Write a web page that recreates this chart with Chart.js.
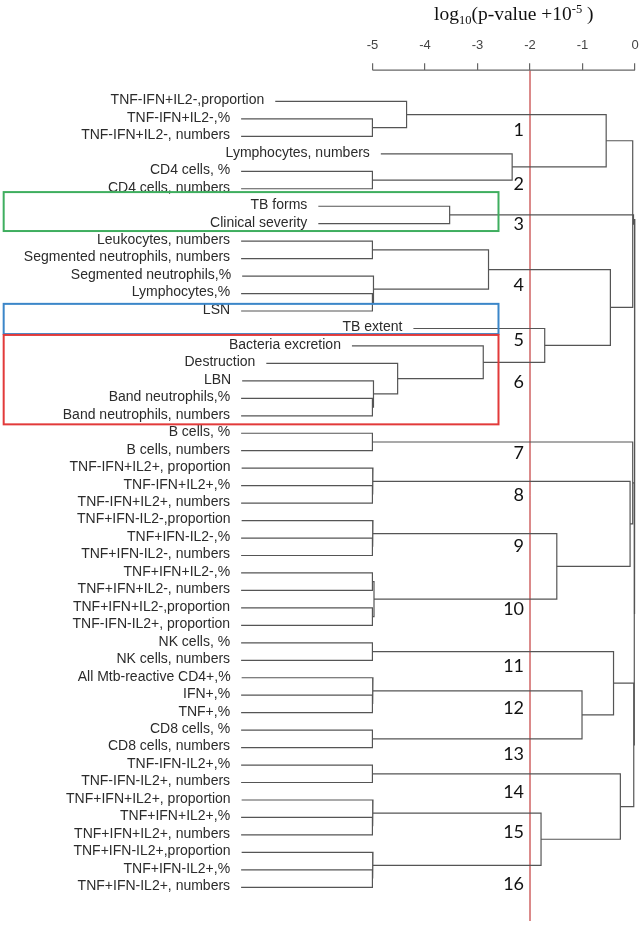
<!DOCTYPE html>
<html lang="en">
<head>
<meta charset="UTF-8">
<title>Dendrogram</title>
<script src="https://cdn.jsdelivr.net/npm/chart.js"></script>
<style>
    body { margin: 0; background: #fff; }
    #box { width: 644px; height: 930px; }
</style>
</head>
<body>
<div id="box"><canvas id="dendro"></canvas></div>
<script>
    var leafLabels = [
        'TNF-IFN+IL2-,proportion', 'TNF-IFN+IL2-,%', 'TNF-IFN+IL2-, numbers',
        'Lymphocytes, numbers', 'CD4 cells, %', 'CD4 cells, numbers',
        'TB forms', 'Clinical severity',
        'Leukocytes, numbers', 'Segmented neutrophils, numbers', 'Segmented neutrophils,%',
        'Lymphocytes,%', 'LSN',
        'TB extent', 'Bacteria excretion', 'Destruction', 'LBN',
        'Band neutrophils,%', 'Band neutrophils, numbers',
        'B cells, %', 'B cells, numbers',
        'TNF-IFN+IL2+, proportion', 'TNF-IFN+IL2+,%', 'TNF-IFN+IL2+, numbers',
        'TNF+IFN-IL2-,proportion', 'TNF+IFN-IL2-,%', 'TNF+IFN-IL2-, numbers',
        'TNF+IFN+IL2-,%', 'TNF+IFN+IL2-, numbers', 'TNF+IFN+IL2-,proportion',
        'TNF-IFN-IL2+, proportion',
        'NK cells, %', 'NK cells, numbers',
        'All Mtb-reactive CD4+,%', 'IFN+,%', 'TNF+,%',
        'CD8 cells, %', 'CD8 cells, numbers',
        'TNF-IFN-IL2+,%', 'TNF-IFN-IL2+, numbers',
        'TNF+IFN+IL2+, proportion', 'TNF+IFN+IL2+,%', 'TNF+IFN+IL2+, numbers',
        'TNF+IFN-IL2+,proportion', 'TNF+IFN-IL2+,%', 'TNF+IFN-IL2+, numbers'
    ];

    // linkage: leaves are 0..45, merge k makes node 46+k
    var mergeLeft   = [1, 0, 4, 3, 47, 6, 8, 11, 10, 52, 17, 16, 15, 14, 13, 55, 50, 51,
                       19, 22, 21, 25, 24, 27, 29, 69, 68, 66, 64,
                       31, 34, 33, 36, 77, 75, 38, 41, 40, 44, 43, 83, 81, 80, 74, 63];
    var mergeRight  = [2, 46, 5, 48, 49, 7, 9, 12, 53, 54, 18, 56, 57, 58, 59, 60, 61, 62,
                       20, 23, 65, 26, 67, 28, 30, 70, 71, 72, 73,
                       32, 35, 76, 37, 78, 79, 39, 42, 82, 45, 84, 85, 86, 87, 88, 89];
    var mergeHeight = [-5, -4.35, -5, -2.34, -0.55, -3.53, -5, -5, -4.98, -2.79, -5, -4.98, -4.52, -2.89, -1.72, -0.47, -0.045, -0.03,
                       -5, -5, -4.99, -5, -4.99, -5, -5, -4.97, -1.49, -0.095, -0.045,
                       -5, -5, -4.99, -5, -1.01, -0.41, -5, -5, -4.99, -5, -4.99, -1.79, -0.28, -0.025, -0.015, -0.005];

    var xTicks = [-5, -4, -3, -2, -1, 0];
    var cutoff = -2;

    var clusterNames = ['1', '2', '3', '4', '5', '6', '7', '8', '9', '10', '11', '12', '13', '14', '15', '16'];
    var clusterRows  = [1.62, 4.76, 7.0, 10.52, 13.69, 16.07, 20.16, 22.57, 25.48, 29.06, 32.33, 34.74, 37.4, 39.55, 41.84, 44.82];

    // highlighted groups (rows in leaf units)
    var boxColors = ['#3fae5f', '#3b86c9', '#e23a3a'];
    var boxTop    = [5.19, 11.59, 13.37];
    var boxBottom = [7.42, 13.32, 18.49];
    var boxLeft = -12.02, boxRight = -2.6;

    var yMin = -1.79, yMax = 46.93;
    var stem = 2.5;

    var nLeaves = leafLabels.length;
    var nodeY = [], nodeH = [], parentH = [];
    for (var i = 0; i < nLeaves; i++) nodeY[i] = i;
    for (var k = 0; k < mergeHeight.length; k++) {
        var id = nLeaves + k;
        nodeY[id] = (nodeY[mergeLeft[k]] + nodeY[mergeRight[k]]) / 2;
        nodeH[id] = mergeHeight[k];
        parentH[mergeLeft[k]] = mergeHeight[k];
        parentH[mergeRight[k]] = mergeHeight[k];
    }
    for (var i = 0; i < nLeaves; i++) nodeH[i] = parentH[i] - stem;

    var datasets = [];
    for (var k = 0; k < mergeHeight.length; k++) {
        var a = mergeLeft[k], b = mergeRight[k], h = mergeHeight[k];
        datasets.push({
            data: [
                { x: nodeH[a], y: nodeY[a] },
                { x: h, y: nodeY[a] },
                { x: h, y: nodeY[b] },
                { x: nodeH[b], y: nodeY[b] }
            ],
            borderColor: '#555',
            borderWidth: 1.2
        });
    }
    datasets.push({
        data: [{ x: cutoff, y: yMin }, { x: cutoff, y: yMax }],
        borderColor: 'rgba(205, 90, 90, 0.75)',
        borderWidth: 0.9
    });

    var decor = {
        id: 'decor',
        afterDatasetsDraw: function (chart) {
            var c = chart.ctx, xs = chart.scales.x, ys = chart.scales.y;
            c.save();

            // axis line between -5 and 0
            c.strokeStyle = '#666';
            c.lineWidth = 1.2;
            c.beginPath();
            c.moveTo(xs.getPixelForValue(xTicks[0]), chart.chartArea.top);
            c.lineTo(xs.getPixelForValue(xTicks[xTicks.length - 1]), chart.chartArea.top);
            c.stroke();

            // leaf labels
            c.fillStyle = '#2b2b2b';
            c.font = '14px "Liberation Sans", Arial, sans-serif';
            c.textAlign = 'right';
            c.textBaseline = 'middle';
            for (var i = 0; i < nLeaves; i++) {
                c.fillText(leafLabels[i], xs.getPixelForValue(nodeH[i]) - 11, ys.getPixelForValue(i) - 1);
            }

            // cluster numbers
            c.fillStyle = '#111';
            c.font = '18px Lato, "Open Sans", sans-serif';
            for (var j = 0; j < clusterNames.length; j++) {
                c.fillText(clusterNames[j], xs.getPixelForValue(cutoff) - 6, ys.getPixelForValue(clusterRows[j]));
            }

            // boxes
            c.lineWidth = 2;
            for (var j = 0; j < boxColors.length; j++) {
                var x1 = xs.getPixelForValue(boxLeft), x2 = xs.getPixelForValue(boxRight);
                var y1 = ys.getPixelForValue(boxTop[j]), y2 = ys.getPixelForValue(boxBottom[j]);
                c.strokeStyle = boxColors[j];
                c.strokeRect(x1, y1, x2 - x1, y2 - y1);
            }

            // axis title log10(p-value +10^-5 )
            var big = '19.5px "Liberation Serif", "Times New Roman", serif';
            var small = '12.5px "Liberation Serif", "Times New Roman", serif';
            var parts = [['log', big, 0], ['10', small, 4], ['(p-value +10', big, 0], ['-5', small, -7], [' )', big, 0]];
            var w = 0;
            parts.forEach(function (p) { c.font = p[1]; w += c.measureText(p[0]).width; });
            var cx = (xs.getPixelForValue(xTicks[0]) + xs.getPixelForValue(xTicks[xTicks.length - 1])) / 2 + 10;
            var tx = cx - w / 2, base = 20;
            c.fillStyle = '#111';
            c.textAlign = 'left';
            c.textBaseline = 'alphabetic';
            parts.forEach(function (p) {
                c.font = p[1];
                c.fillText(p[0], tx, base + p[2]);
                tx += c.measureText(p[0]).width;
            });
            c.restore();
        }
    };

    new Chart(document.getElementById('dendro'), {
        type: 'scatter',
        data: { datasets: datasets },
        options: {
            responsive: true,
            maintainAspectRatio: false,
            animation: false,
            showLine: true,
            layout: { padding: { top: 27.6, bottom: 9, left: 0, right: 0 } },
            elements: { point: { radius: 0 }, line: { tension: 0 } },
            plugins: { legend: { display: false }, tooltip: { enabled: false } },
            scales: {
                x: {
                    type: 'linear',
                    position: 'top',
                    min: -12.09,
                    max: 0.17,
                    afterBuildTicks: function (scale) {
                        scale.ticks = xTicks.map(function (v) { return { value: v }; });
                    },
                    afterFit: function (scale) {
                        scale.paddingLeft = 0;
                        scale.paddingRight = 0;
                    },
                    ticks: {
                        color: '#444',
                        padding: 10,
                        maxRotation: 0,
                        font: { family: '"Liberation Sans", Arial, sans-serif', size: 13 }
                    },
                    grid: { drawOnChartArea: false, tickLength: 7, color: '#666', lineWidth: 1.2 },
                    border: { display: false }
                },
                y: {
                    type: 'linear',
                    reverse: true,
                    min: yMin,
                    max: yMax,
                    display: false
                }
            }
        },
        plugins: [decor]
    });
</script>
</body>
</html>
